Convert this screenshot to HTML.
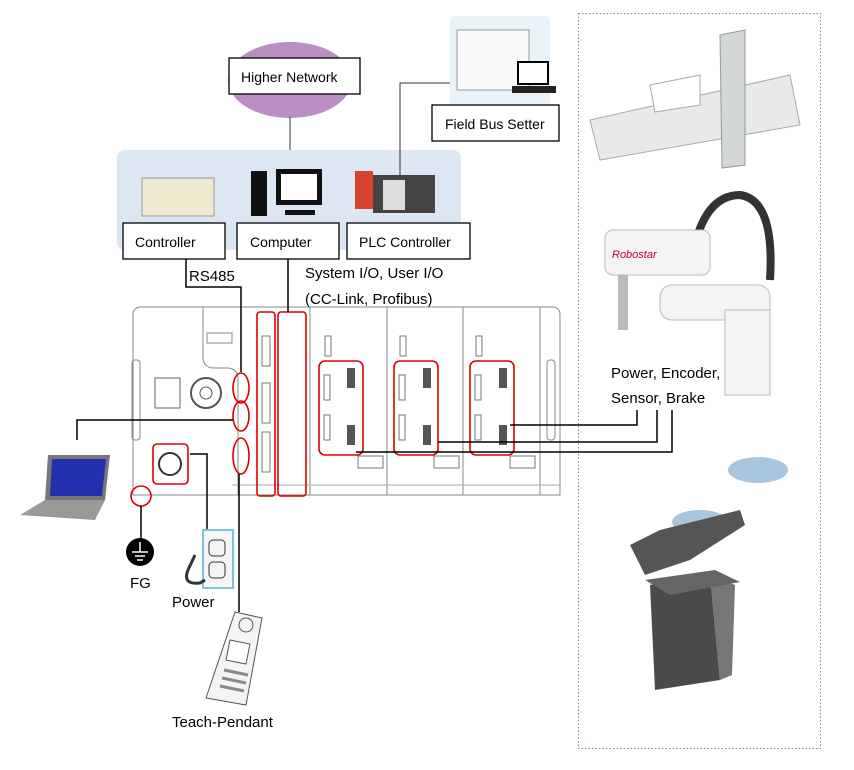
<!DOCTYPE html>
<html><head><meta charset="utf-8"><style>
html,body{margin:0;padding:0;background:#fff;}
svg{display:block;font-family:"Liberation Sans",sans-serif;}
</style></head><body>
<svg width="854" height="770" viewBox="0 0 854 770" xmlns="http://www.w3.org/2000/svg">
<rect x="578.5" y="13.5" width="242" height="735" fill="none" stroke="#6a8fc0" stroke-dasharray="1.5,2"/>
<ellipse cx="290" cy="80" rx="62" ry="38" fill="#b98fc4"/>
<line x1="290" y1="117" x2="290" y2="150" stroke="#333"/>
<rect x="117" y="150" width="344" height="100" rx="8" fill="#dde6f3"/>
<rect x="229" y="58" width="131" height="36" fill="#fff" stroke="#000" stroke-width="1.3"/>
<text x="241" y="82" font-size="14">Higher Network</text>
<rect x="450" y="16" width="100" height="90" rx="5" fill="#e9f2f6"/>
<rect x="457" y="30" width="72" height="60" fill="#fafafa" stroke="#999"/>
<rect x="518" y="62" width="30" height="22" fill="#fff" stroke="#000" stroke-width="2"/>
<rect x="512" y="86" width="44" height="7" fill="#222"/>
<polyline points="400,175 400,83 450,83" fill="none" stroke="#333"/>
<rect x="432" y="105" width="127" height="36" fill="#fff" stroke="#000" stroke-width="1.3"/>
<text x="445" y="129" font-size="14">Field Bus Setter</text>
<rect x="142" y="178" width="72" height="38" fill="#eee9cf" stroke="#999"/>
<rect x="251" y="171" width="16" height="45" fill="#111"/>
<rect x="276" y="169" width="46" height="36" fill="#111"/><rect x="281" y="174" width="36" height="26" fill="#fff"/>
<rect x="285" y="210" width="30" height="5" fill="#111"/>
<rect x="355" y="171" width="18" height="38" fill="#d9442c"/>
<rect x="373" y="175" width="62" height="38" fill="#444"/>
<rect x="383" y="180" width="22" height="30" fill="#ddd"/>
<rect x="123" y="223" width="102" height="36" fill="#fff" stroke="#000" stroke-width="1.3"/>
<text x="135" y="247" font-size="14">Controller</text>
<rect x="237" y="223" width="102" height="36" fill="#fff" stroke="#000" stroke-width="1.3"/>
<text x="250" y="247" font-size="14">Computer</text>
<rect x="347" y="223" width="123" height="36" fill="#fff" stroke="#000" stroke-width="1.3"/>
<text x="359" y="247" font-size="14">PLC Controller</text>
<text x="189" y="281" font-size="15">RS485</text>
<text x="305" y="278" font-size="15">System I/O, User I/O</text>
<text x="305" y="304" font-size="15">(CC-Link, Profibus)</text>
<path d="M140,307 H553 a7,7 0 0 1 7,7 V495 H133 V314 a7,7 0 0 1 7,-7z" fill="#fff" stroke="#888"/>
<path d="M203,307 V358 a10,10 0 0 0 10,10 H228 a10,10 0 0 1 10,10 V495" fill="none" stroke="#888"/>
<line x1="310" y1="307" x2="310" y2="495" stroke="#888"/>
<line x1="387" y1="307" x2="387" y2="495" stroke="#888"/>
<line x1="463" y1="307" x2="463" y2="495" stroke="#888"/>
<line x1="540" y1="307" x2="540" y2="495" stroke="#888"/>
<line x1="232" y1="485" x2="560" y2="485" stroke="#aaa"/>
<rect x="207" y="333" width="25" height="10" fill="none" stroke="#888"/>
<rect x="155" y="378" width="25" height="30" fill="none" stroke="#666"/>
<circle cx="206" cy="393" r="15" fill="none" stroke="#555" stroke-width="2"/><circle cx="206" cy="393" r="6" fill="none" stroke="#555"/>
<rect x="132" y="360" width="8" height="80" rx="3" fill="none" stroke="#888"/>
<rect x="547" y="360" width="8" height="80" rx="3" fill="none" stroke="#888"/>
<g fill="none" stroke="#777">
<rect x="262" y="336" width="8" height="30"/><rect x="262" y="383" width="8" height="40"/><rect x="262" y="432" width="8" height="40"/>
<rect x="325" y="336" width="6" height="20"/><rect x="400" y="336" width="6" height="20"/><rect x="476" y="336" width="6" height="20"/>
<rect x="358" y="456" width="25" height="12"/><rect x="434" y="456" width="25" height="12"/><rect x="510" y="456" width="25" height="12"/>
<rect x="324" y="375" width="6" height="25"/><rect x="324" y="415" width="6" height="25"/>
<rect x="399" y="375" width="6" height="25"/><rect x="399" y="415" width="6" height="25"/>
<rect x="475" y="375" width="6" height="25"/><rect x="475" y="415" width="6" height="25"/>
</g>
<g fill="#555">
<rect x="347" y="368" width="8" height="20"/><rect x="347" y="425" width="8" height="20"/>
<rect x="423" y="368" width="8" height="20"/><rect x="423" y="425" width="8" height="20"/>
<rect x="499" y="368" width="8" height="20"/><rect x="499" y="425" width="8" height="20"/>
</g>
<g fill="none" stroke="#d00" stroke-width="1.6">
<rect x="257" y="312" width="18" height="184" rx="3"/>
<rect x="278" y="312" width="28" height="184" rx="3"/>
<rect x="319" y="361" width="44" height="94" rx="6"/>
<rect x="394" y="361" width="44" height="94" rx="6"/>
<rect x="470" y="361" width="44" height="94" rx="6"/>
<ellipse cx="241" cy="388" rx="8" ry="15"/><ellipse cx="241" cy="416" rx="8" ry="15"/><ellipse cx="241" cy="456" rx="8" ry="18"/>
<rect x="153" y="444" width="35" height="40" rx="4"/>
<circle cx="141" cy="496" r="10"/>
</g>
<circle cx="170" cy="464" r="11" fill="none" stroke="#333" stroke-width="2"/>
<g fill="none" stroke="#000" stroke-width="1.5">
<polyline points="186,259 186,287 241,287 241,372"/>
<line x1="288" y1="259" x2="288" y2="312"/>
<polyline points="77,440 77,420 233,420"/>
<polyline points="141,506 141,540"/>
<polyline points="190,454 207,454 207,530"/>
<line x1="239" y1="474" x2="239" y2="612"/>
<polyline points="510,425 637,425 637,410"/>
<polyline points="438,442 657,442 657,410"/>
<polyline points="356,452 672,452 672,410"/>
</g>
<polygon points="48,455 110,455 105,500 45,500" fill="#777"/>
<polygon points="52,459 106,459 102,496 50,496" fill="#2230b0"/>
<polygon points="45,500 105,500 95,520 20,515" fill="#999"/>
<circle cx="140" cy="552" r="14" fill="#000"/>
<g stroke="#fff" stroke-width="1.5"><line x1="140" y1="542" x2="140" y2="552"/><line x1="132" y1="552" x2="148" y2="552"/><line x1="135" y1="556" x2="145" y2="556"/><line x1="137" y1="560" x2="143" y2="560"/></g>
<text x="130" y="588" font-size="15">FG</text>
<rect x="203" y="530" width="30" height="58" fill="#f5f5f5" stroke="#7bc4d6" stroke-width="2"/>
<rect x="209" y="540" width="16" height="16" rx="4" fill="none" stroke="#333"/><rect x="209" y="562" width="16" height="16" rx="4" fill="none" stroke="#333"/>
<path d="M195,555 L188,570 Q182,585 200,583 L205,580" fill="none" stroke="#333" stroke-width="3"/>
<text x="172" y="607" font-size="15">Power</text>
<polygon points="235,612 262,618 246,705 206,698" fill="#f4f4f4" stroke="#555"/>
<circle cx="246" cy="625" r="7" fill="none" stroke="#555"/>
<polygon points="230,640 250,644 246,664 226,660" fill="#fff" stroke="#555"/>
<g stroke="#888" stroke-width="3"><line x1="224" y1="670" x2="248" y2="675"/><line x1="222" y1="678" x2="246" y2="683"/><line x1="220" y1="686" x2="244" y2="691"/></g>
<text x="172" y="727" font-size="15">Teach-Pendant</text>
<polygon points="590,120 790,75 800,125 600,160" fill="#e8eaea" stroke="#aaa"/>
<polygon points="720,35 745,30 745,165 722,168" fill="#d4d7d8" stroke="#999"/>
<polygon points="650,85 700,75 700,105 655,112" fill="#fff" stroke="#aaa"/>
<path d="M690,270 Q700,195 740,195 Q775,200 770,280" fill="none" stroke="#333" stroke-width="8"/>
<rect x="605" y="230" width="105" height="45" rx="8" fill="#f4f4f6" stroke="#bbb"/>
<text x="612" y="258" font-size="11" font-style="italic" fill="#b03">Robostar</text>
<rect x="618" y="275" width="10" height="55" fill="#bbb"/>
<rect x="660" y="285" width="110" height="35" rx="12" fill="#f4f4f6" stroke="#bbb"/>
<rect x="725" y="310" width="45" height="85" fill="#f4f4f6" stroke="#bbb"/>
<text x="611" y="378" font-size="15">Power, Encoder,</text>
<text x="611" y="403" font-size="15">Sensor, Brake</text>
<ellipse cx="758" cy="470" rx="30" ry="13" fill="#a9c6df"/>
<ellipse cx="700" cy="522" rx="28" ry="12" fill="#a9c6df"/>
<polygon points="630,545 660,530 740,510 745,525 690,560 645,575" fill="#555"/>
<polygon points="650,585 710,575 720,680 655,690" fill="#4a4a4a"/>
<polygon points="710,575 735,585 732,675 720,680" fill="#777"/>
<polygon points="645,580 715,570 740,582 670,595" fill="#666"/>
</svg>
</body></html>
